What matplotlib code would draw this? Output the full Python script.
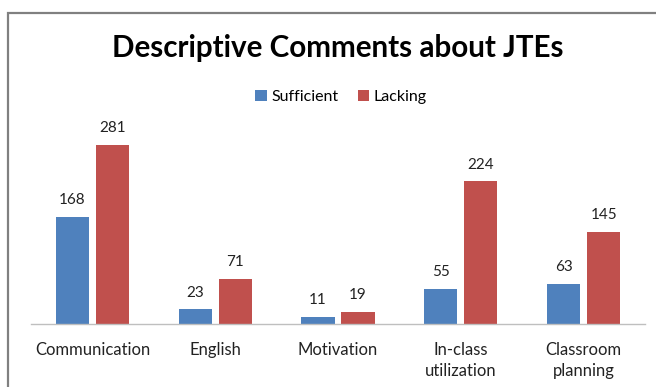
import matplotlib.pyplot as plt
import matplotlib.patches as patches
import numpy as np

categories = ["Communication", "English", "Motivation", "In-class\nutilization", "Classroom\nplanning"]
sufficient = [168, 23, 11, 55, 63]
lacking = [281, 71, 19, 224, 145]

BLUE = "#4F81BD"
RED = "#C0504D"
plt.rcParams['font.family'] = ['Lato', 'DejaVu Sans']

fig = plt.figure(figsize=(6.56, 3.87), dpi=100)
fig.patch.set_facecolor('white')

# chart frame, runs off the right and bottom edges
frame = patches.Rectangle((8 / 656, -0.05), 1.0, 1 - 13 / 387 + 0.05,
                          transform=fig.transFigure, fill=False,
                          ec="#808080", lw=1.6, clip_on=False)
fig.add_artist(frame)

ax = fig.add_axes([31 / 656, 1 - 324 / 387, 614 / 656, 191 / 387])
x = np.arange(len(categories))
w = 0.27
off = 0.163
b1 = ax.bar(x - off, sufficient, w, color=BLUE, label="Sufficient")
b2 = ax.bar(x + off, lacking, w, color=RED, label="Lacking")

for bars, vals in ((b1, sufficient), (b2, lacking)):
    for rect, v in zip(bars, vals):
        ax.annotate(str(v), (rect.get_x() + rect.get_width() / 2, v),
                    xytext=(0, 7), textcoords="offset points",
                    ha="center", va="bottom", fontsize=11, color="#222222")

ax.set_xlim(-0.5, len(categories) - 0.5)
ax.set_ylim(0, 300)
ax.set_yticks([])
ax.set_xticks(x)
ax.set_xticklabels(categories, fontsize=12, color="#222222", linespacing=1.35)
ax.tick_params(axis='x', length=0, pad=13)
for s in ("top", "right", "left"):
    ax.spines[s].set_visible(False)
ax.spines["bottom"].set_color("#BFBFBF")
ax.spines["bottom"].set_linewidth(1.0)

fig.text(338 / 656, 1 - 48 / 387, "Descriptive Comments about JTEs", ha="center",
         va="center", fontsize=21.3, fontweight="bold", color="black")

fig.legend(handles=[b1, b2], loc="center", bbox_to_anchor=(341 / 656, 1 - 97 / 387),
           ncol=2, frameon=False, fontsize=11.5, handlelength=0.7,
           handleheight=0.7, handletextpad=0.3, columnspacing=1.2)

fig.savefig("out.png", dpi=100, facecolor="white")
